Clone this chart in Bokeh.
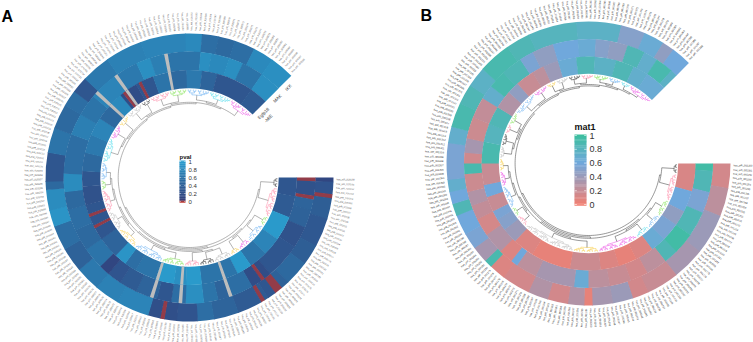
import math
import numpy as np
from bokeh.embed import file_html
from bokeh.models import ColumnDataSource, Range1d
from bokeh.plotting import figure
from bokeh.resources import INLINE
from bokeh.core.properties import value

N_LEAVES = 189
SWEEP_DEG = 315.0

# ---- Panel A: heat values (run ends in leaves, value per run) ----
a_outer_ends = [1,5,10,17,22,28,30,34,42,48,52,57,64,72,78,84,90,96,100,105,107,114,120,126,130,134,141,150,156,161,165,169,173,178,183,189]
a_outer_vals = [.12,.28,.38,.32,.38,.5,.42,.3,.35,.45,.55,.28,.22,.75,.72,.65,.42,.55,.9,.82,.5,.3,.6,.5,.55,.3,.65,.72,.75,.75,.8,.55,.5,.55,.8,.85]
a_mid_ends = [5,9,14,20,24,30,36,42,46,50,55,59,63,69,74,78,81,87,93,99,104,109,115,120,126,132,140,147,151,156,161,165,168,173,177,183,189]
a_mid_vals = [.25,.45,.42,.25,.3,.3,.2,.55,.45,.6,.85,.55,.3,.45,.35,.28,.12,.6,.5,.55,.5,.82,.55,.55,.7,.6,.75,.65,.85,.7,.6,.6,.85,.8,.85,.6,.85]
a_inner_ends = [6,13,21,27,33,38,44,50,55,59,65,72,76,80,87,93,99,105,110,116,122,128,134,138,144,150,155,161,166,171,177,183,189]
a_inner_vals = [.3,.35,.95,.75,.6,.95,.6,.6,.95,.85,.95,.6,.55,.9,.45,.3,.3,.25,.3,.5,.65,.75,.5,.8,.2,.3,.6,.5,.65,.45,.3,.3,.35]
a_outer_low = [4,30,31,35,60]
a_mid_low = [0,5,32]
a_inner_low = [91,95,139,145]
a_na_leaves = [42,56,64,133,140,155]
a_low_value = 0.02

# ---- Panel B: heat values ----
b_outer_ends = [6,13,23,31,39,43,48,53,55,59,64,69,76,80,82,86,90,95,98,101,104,109,113,117,123,128,133,141,147,152,159,170,176,181,184,189]
b_outer_vals = [.15,.25,.4,.35,.2,.15,.4,.35,.05,.3,.15,.3,.15,.1,.9,.35,.55,.6,.85,.6,.7,.55,.55,.7,.9,.85,.75,.9,.85,.8,.8,.75,.5,.65,.45,.6]
b_mid_ends = [2,8,14,21,27,31,37,42,48,54,58,63,69,75,77,81,87,92,96,100,105,108,111,115,121,127,131,136,142,146,152,159,164,168,173,178,182,187,189]
b_mid_vals = [.95,.85,.55,.85,.95,.85,.25,.15,.2,.25,.65,.35,.35,.25,.6,.1,.3,.14,.22,.3,.18,.9,.16,.35,.18,.22,.7,.9,.85,.55,.45,.6,.65,.5,.45,.85,.7,.9,.75]
b_inner_ends = [9,16,21,27,32,38,44,50,60,67,73,80,85,89,92,97,101,108,115,121,127,133,137,143,147,152,158,164,171,177,182,189]
b_inner_vals = [.12,.6,.45,.55,.65,.1,.05,.1,.18,.05,.05,.1,.4,.5,.55,.2,.6,.2,.9,.8,.85,.3,.45,.2,.25,.4,.65,.85,.75,.85,.7,.65]

# ---- Dendrogram clusters (end leaf and colour name of each) ----
PALETTE = {"black": "#222222", "pink": "#ff7f9e", "green": "#7be04a", "blue": "#5aa9f0",
           "cyan": "#45d8ea", "magenta": "#e83fe0", "yellow": "#f7c93a", "gray": "#b5b5b5"}
a_cluster_ends = [4,16,20,28,33,37,44,50,56,65,77,86,94,103,107,114,124,130,135,142,146,154,161,170,179,189]
a_cluster_cols = ["black","pink","green","blue","magenta","yellow","gray","black","pink","green","blue","yellow","gray","pink","green","blue","cyan","magenta","yellow","gray","black","pink","green","blue","cyan","magenta"]
a_tree = [[0,1],[[[[2,3],[4,5]],[[[6,7],8],[[9,10],[[11,12],[13,[14,15]]]]]],[[[16,17],18],[[19,20],[[21,22],[[23,24],25]]]]]]
b_cluster_ends = [4,15,22,28,34,50,60,81,86,90,99,105,110,115,120,124,129,139,145,149,154,159,164,170,175,179,189]
b_cluster_cols = ["black","pink","green","blue","cyan","magenta","yellow","gray","pink","green","blue","magenta","yellow","gray","black","pink","green","blue","magenta","yellow","gray","black","pink","green","blue","cyan","magenta"]
b_tree = [[0,1],[[[[2,3],[4,5]],[[6,7],[[8,9],[10,[11,12]]]]],[[[13,14],[15,16]],[[17,18],[[19,20],[[21,22],[[23,24],[25,26]]]]]]]]

legend_ticks = [0, 0.2, 0.4, 0.6, 0.8, 1]
a_labels = [f"hsa_piR_{i:06d}" for i in range(20100, 20100 + N_LEAVES)]
b_labels = [f"hsa_piR_{i:06d}" for i in range(1200, 1200 + N_LEAVES)]
a_tracks = ["IKK", "MAK", "Egfp18", "-MIE"]

W, H = 753, 342

def hex2rgb(h):
    return np.array([int(h[i:i+2], 16) for i in (1, 3, 5)], float)

def ramp(v, stops, cols):
    rgb = [np.interp(v, stops, [hex2rgb(c)[k] for c in cols]) for k in range(3)]
    return "#%02x%02x%02x" % tuple(int(round(c)) for c in rgb)

A_S, A_C = [0, .06, .5, 1], ["#c23a30", "#32407c", "#2d699f", "#2a9fd0"]
B_S, B_C = [0, .6, 1], ["#f27e70", "#70a8dc", "#3cbf9e"]

def expand(ends, vals):
    out = np.zeros(N_LEAVES)
    s = 0
    for e, v in zip(ends, vals):
        out[s:e] = v
        s = e
    return out

p = figure(width=W, height=H, x_range=Range1d(0, W), y_range=Range1d(0, H),
           output_backend="svg", toolbar_location=None, min_border=0)
p.axis.visible = False
p.grid.visible = False
p.outline_line_color = None

DW = SWEEP_DEG / N_LEAVES

def heat(cx, cy, r0, r1, vals, stops, cols, na=None, na_col="#bdbdbd"):
    # one wedge for each run of equal values, so that no seams show inside a run
    runs, s = [], 0
    for i in range(1, N_LEAVES + 1):
        if i == N_LEAVES or vals[i] != vals[s]:
            runs.append((s, i))
            s = i
    a0 = [-math.radians(e * DW + (0.25 if e < N_LEAVES else 0)) for s, e in runs]
    a1 = [-math.radians(s * DW) for s, e in runs]
    colors = [ramp(vals[s], stops, cols) for s, e in runs]
    n = len(runs)
    src = ColumnDataSource(dict(x=[cx] * n, y=[H - cy] * n, a0=a0, a1=a1, c=colors))
    p.annular_wedge("x", "y", r0 - 0.3, r1, "a0", "a1", source=src, fill_color="c", line_color=None)
    if na:
        ia0 = [-math.radians((i + 1) * DW) for i in na]
        ia1 = [-math.radians(i * DW) for i in na]
        src2 = ColumnDataSource(dict(x=[cx] * len(na), y=[H - cy] * len(na), a0=ia0, a1=ia1))
        p.annular_wedge("x", "y", r0 - 0.3, r1, "a0", "a1", source=src2, fill_color=na_col, line_color=None)

def leaf_labels(cx, cy, r, labels, size, col):
    src_r = dict(x=[], y=[], a=[], t=[])
    src_l = dict(x=[], y=[], a=[], t=[])
    for i, t in enumerate(labels):
        d = (i + .5) * DW
        th = -math.radians(d)
        x, y = cx + r * math.cos(th), H - cy + r * math.sin(th)
        if 90 < d < 270:
            src_l["x"].append(x); src_l["y"].append(y); src_l["a"].append(th + math.pi); src_l["t"].append(t)
        else:
            src_r["x"].append(x); src_r["y"].append(y); src_r["a"].append(th); src_r["t"].append(t)
    for src, al in ((src_r, "left"), (src_l, "right")):
        p.text("x", "y", text="t", angle="a", source=ColumnDataSource(src), text_align=al,
               text_baseline="middle", text_font=value("Liberation Sans"),
               text_font_size=size, text_color=col)

def dendro(cx, cy, ends, cols, tree, leaf_r, top_r, root_r, step, trunk_col, w):
    def pt(a, r):
        th = -math.radians(a)
        return cx + r * math.cos(th), H - cy + r * math.sin(th)
    def arc(a0, a1, r):
        n = max(2, int(abs(a1 - a0) / 1.5) + 2)
        return [pt(a0 + (a1 - a0) * k / (n - 1), r) for k in range(n)]
    col_x, col_y, col_c = [], [], []
    def add(points, c, xs, ys, cs):
        xs.append([q[0] for q in points]); ys.append([q[1] for q in points]); cs.append(c)
    def sub(lo, hi, c, rmax):
        if hi - lo == 1:
            return (lo + .5) * DW, leaf_r
        m = (lo + hi) // 2
        a1, r1 = sub(lo, m, c, rmax)
        a2, r2 = sub(m, hi, c, rmax)
        r = leaf_r - (leaf_r - top_r) * math.log2(hi - lo) / rmax
        add(arc(a1, a2, r), c, col_x, col_y, col_c)
        add([pt(a1, r), pt(a1, r1)], c, col_x, col_y, col_c)
        add([pt(a2, r), pt(a2, r2)], c, col_x, col_y, col_c)
        return (a1 + a2) / 2, r
    starts = [0] + ends[:-1]
    rmax = math.log2(max(e - s for s, e in zip(starts, ends)))
    roots = []
    for s, e, c in zip(starts, ends, cols):
        roots.append(sub(s, e, PALETTE[c], rmax))
    t_x, t_y, t_c = [], [], []
    def walk(node, depth):
        if isinstance(node, int):
            return roots[node]
        a1, r1 = walk(node[0], depth + 1)
        a2, r2 = walk(node[1], depth + 1)
        r = root_r + step * depth
        add(arc(a1, a2, r), trunk_col, t_x, t_y, t_c)
        add([pt(a1, r), pt(a1, r1)], trunk_col, t_x, t_y, t_c)
        add([pt(a2, r), pt(a2, r2)], trunk_col, t_x, t_y, t_c)
        return (a1 + a2) / 2, r
    walk(tree, 0)
    p.multi_line(col_x, col_y, line_color=col_c, line_width=w)
    p.multi_line(t_x, t_y, line_color=t_c, line_width=w)

def legend(x, y_top, y_bot, bw, stops, cols, title, title_y, fs, tfs, tcol):
    vs = np.linspace(1, 0, 60)
    dy = (y_bot - y_top) / 60
    tops = [H - (y_top + i * dy) for i in range(60)]
    bots = [t - dy - 0.3 for t in tops]
    p.quad(left=x, right=x + bw, top=tops, bottom=bots, fill_color=[ramp(v, stops, cols) for v in vs], line_color=None)
    h = y_bot - y_top
    tx = legend_ticks
    ys = [H - (y_bot - 1 - t * (h - 2)) for t in tx]
    tl = bw * .2
    p.segment(x0=[x] * 6, x1=[x + tl] * 6, y0=ys, y1=ys, line_color="white", line_width=0.6)
    p.segment(x0=[x + bw - tl] * 6, x1=[x + bw] * 6, y0=ys, y1=ys, line_color="white", line_width=0.6)
    p.text(x=[x + bw + 3] * 6, y=ys, text=[f"{t:g}" for t in tx], text_font=value("Liberation Sans"),
           text_font_size=fs, text_baseline="middle", text_color=tcol)
    p.text(x=[x], y=[H - title_y], text=[title], text_font=value("Liberation Sans"), text_font_style="bold",
           text_font_size=tfs, text_baseline="middle", text_color="#111111")

# Panel A
ACX, ACY = 189, 177
ao, am, ai = expand(a_outer_ends, a_outer_vals), expand(a_mid_ends, a_mid_vals), expand(a_inner_ends, a_inner_vals)
ao[a_outer_low] = a_low_value; am[a_mid_low] = a_low_value; ai[a_inner_low] = a_low_value
heat(ACX, ACY, 126, 144, ao, A_S, A_C)
heat(ACX, ACY, 107.5, 126, am, A_S, A_C, na=a_na_leaves)
heat(ACX, ACY, 89.5, 107.5, ai, A_S, A_C, na=a_na_leaves)
leaf_labels(ACX, ACY, 147, a_labels, "2.4px", "#555555")
dendro(ACX, ACY, a_cluster_ends, a_cluster_cols, a_tree, 88, 82, 70, 1.3, "#666666", 0.5)
legend(179, 160, 202, 6, A_S, A_C, "pval", 156, "6px", "6px", "#333333")
px = [288, 277, 263, 268]
py = [87, 98, 113, 118]
p.text(x=px, y=[H - v for v in py], text=a_tracks, angle=[math.pi / 4] * 4, text_align="center",
       text_baseline="middle", text_font=value("Liberation Sans"), text_font_size="4.5px", text_color="#333333")

# Panel B
BCX, BCY = 588, 163
bo, bm, bi = expand(b_outer_ends, b_outer_vals), expand(b_mid_ends, b_mid_vals), expand(b_inner_ends, b_inner_vals)
heat(BCX, BCY, 124.5, 142, bo, B_S, B_C)
heat(BCX, BCY, 107, 124.5, bm, B_S, B_C)
heat(BCX, BCY, 90, 107, bi, B_S, B_C)
leaf_labels(BCX, BCY, 145, b_labels, "2.5px", "#222222")
dendro(BCX, BCY, b_cluster_ends, b_cluster_cols, b_tree, 88.5, 82.5, 72, 1.4, "#333333", 0.5)
legend(574, 134, 205, 12, B_S, B_C, "mat1", 126, "9px", "9px", "#333333")

p.text(x=[1, 420], y=[H - 15.5, H - 15], text=["A", "B"], text_font=value("Liberation Sans"), text_font_style="bold",
       text_font_size="16px", text_baseline="middle", text_color="#000000")

open("out.html", "w").write(file_html(p, INLINE))
